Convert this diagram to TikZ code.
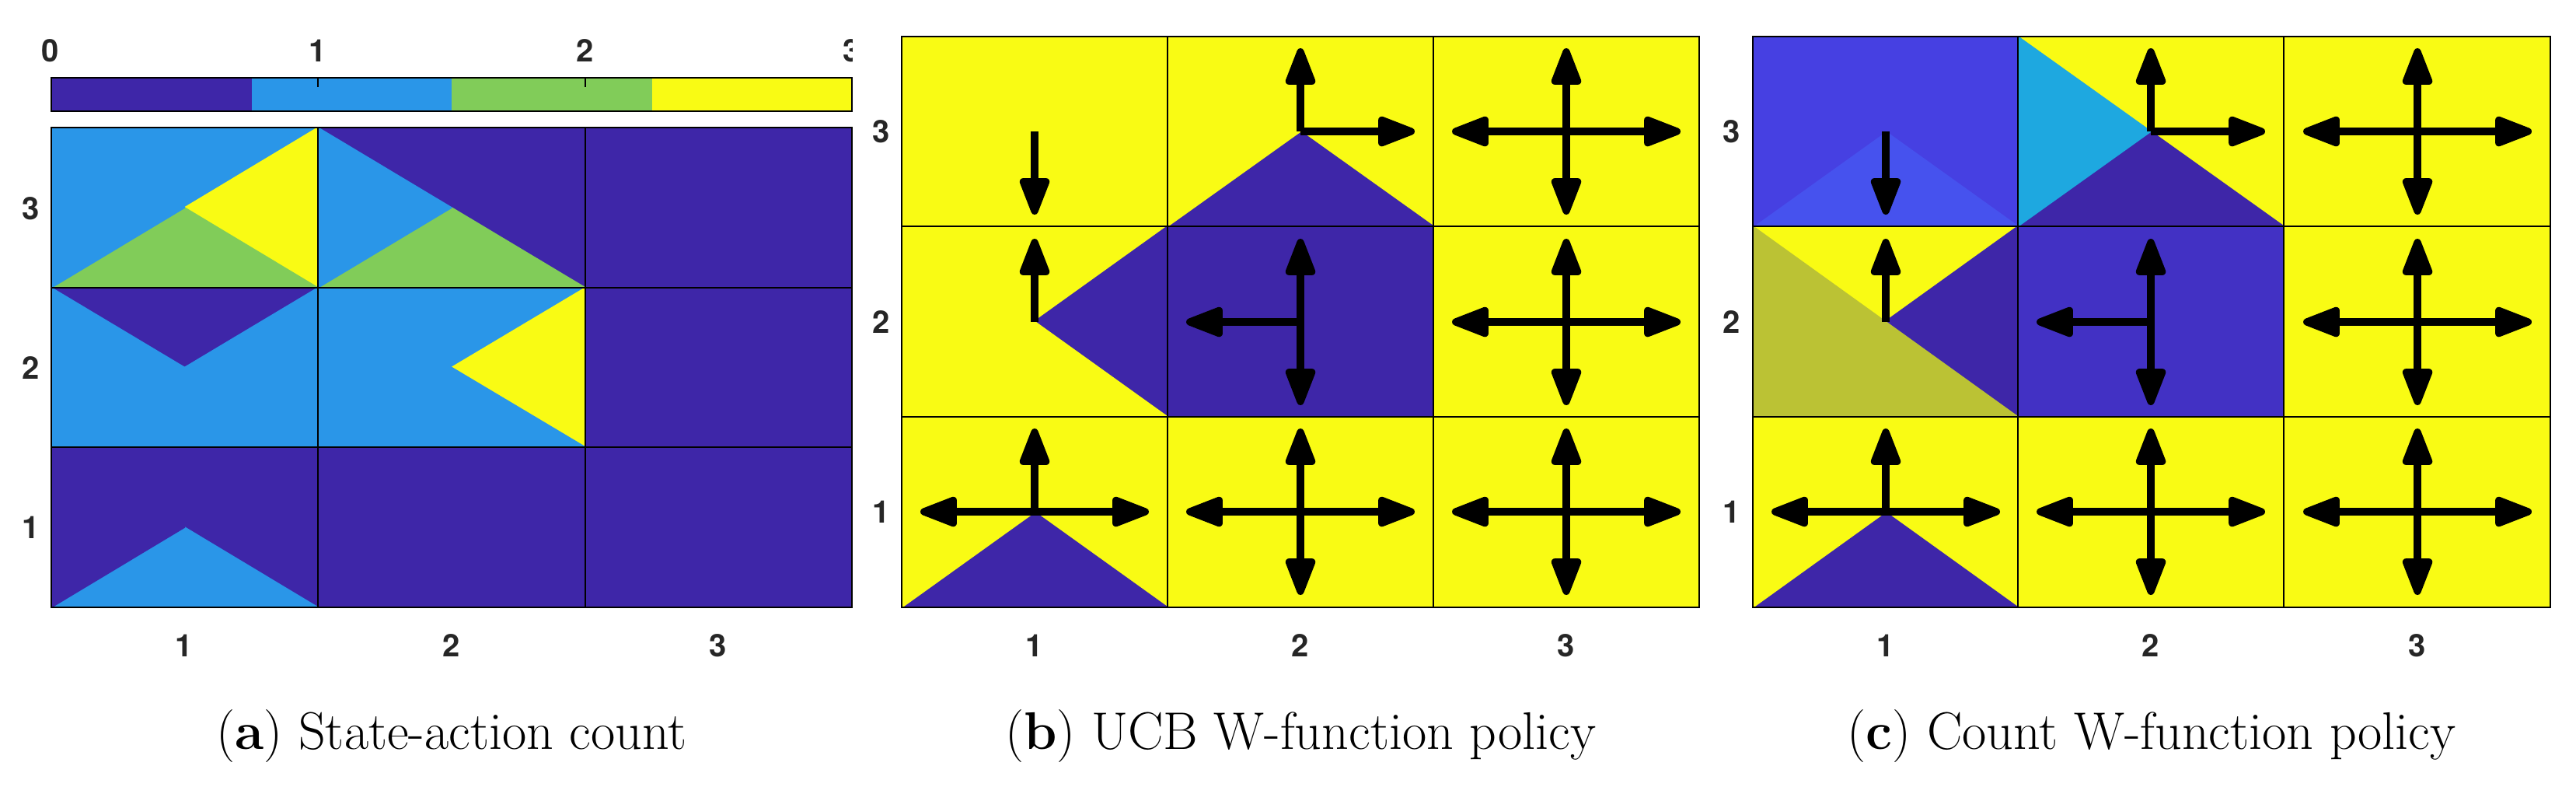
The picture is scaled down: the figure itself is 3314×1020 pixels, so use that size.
\documentclass[tikz,border=0pt]{standalone}
\usepackage{fontspec}
\setmainfont{Latin Modern Roman}
\newfontfamily\axisfont{TeX Gyre Heros}
\usetikzlibrary{arrows.meta}

\definecolor{pdark}{RGB}{62,38,168}
\definecolor{pblue}{RGB}{42,150,232}
\definecolor{pgreen}{RGB}{129,204,89}
\definecolor{pyellow}{RGB}{249,251,20}
\definecolor{cpurple}{RGB}{70,64,226}
\definecolor{cpurplel}{RGB}{70,82,238}
\definecolor{ccyan}{RGB}{30,168,224}
\definecolor{colive}{RGB}{187,194,52}
\definecolor{cmid}{RGB}{66,49,196}

\tikzset{
  gridline/.style={draw=black, line width=0.5pt},
  tick/.style={font=\axisfont\bfseries\fontsize{10}{10}\selectfont, text=black!85},
  caption/.style={font=\fontsize{17}{20}\selectfont},
  part/.style={fill=#1, draw=#1, line width=0.4pt, line join=round},
  move/.style={line width=2.3pt, -{Triangle[length=14pt,width=10pt,round]}}
}

% quarters of a cell: x0 y0 x1 y1 top right bottom left
\newcommand\quadcell[8]{%
  \path[part=#5] (#1,#2) -- (#3,#2) -- ({(#1+#3)/2},{(#2+#4)/2}) -- cycle;
  \path[part=#6] (#3,#2) -- (#3,#4) -- ({(#1+#3)/2},{(#2+#4)/2}) -- cycle;
  \path[part=#7] (#1,#4) -- (#3,#4) -- ({(#1+#3)/2},{(#2+#4)/2}) -- cycle;
  \path[part=#8] (#1,#2) -- (#1,#4) -- ({(#1+#3)/2},{(#2+#4)/2}) -- cycle;
}
% arrows from a cell centre: cx cy hx hy list
\newcommand\moves[5]{%
  \foreach \d in {#5}{%
    \if\d u\draw[move] (#1,#2) -- ++(0,-#4);\fi
    \if\d d\draw[move] (#1,#2) -- ++(0,#4);\fi
    \if\d l\draw[move] (#1,#2) -- ++(-#3,0);\fi
    \if\d r\draw[move] (#1,#2) -- ++(#3,0);\fi
  }%
}

\begin{document}
\begin{tikzpicture}[x=0.25pt,y=-0.25pt]
\useasboundingbox (0,0) rectangle (3314,1020);

% (a) state-action count
\fill[pdark] (66,100) rectangle (324,143);
\fill[pblue] (324,100) rectangle (581,143);
\fill[pgreen] (581,100) rectangle (839,143);
\fill[pyellow] (839,100) rectangle (1096,143);
\draw[gridline] (66,100) rectangle (1096,143);
\draw[gridline] (409,100) -- (409,112) (753,100) -- (753,112);
\node[tick] (cb0) at (65,65) {0};
\node[tick] (cb1) at (409,65) {1};
\node[tick] (cb2) at (753,65) {2};
\begin{scope}
\clip (1050,30) rectangle (1096,100);
\node[tick] (cb3) at (1096,65) {3};
\end{scope}

\quadcell{66}{164}{409}{370}{pblue}{pyellow}{pgreen}{pblue}
\quadcell{409}{164}{753}{370}{pdark}{pdark}{pgreen}{pblue}
\path[part=pdark] (753,164) rectangle (1096,370);
\quadcell{66}{370}{409}{575}{pdark}{pblue}{pblue}{pblue}
\quadcell{409}{370}{753}{575}{pblue}{pyellow}{pblue}{pblue}
\path[part=pdark] (753,370) rectangle (1096,575);
\quadcell{66}{575}{409}{781}{pdark}{pdark}{pblue}{pdark}
\path[part=pdark] (409,575) rectangle (1096,781);
\draw[gridline] (66,164) rectangle (1096,781);
\draw[gridline] (409,164) -- (409,781) (753,164) -- (753,781)
  (66,370) -- (1096,370) (66,575) -- (1096,575);
\node[tick] (ar3) at (40,268) {3};
\node[tick] (ar2) at (40,473) {2};
\node[tick] (ar1) at (40,678) {1};
\node[tick] (ac1) at (237,830) {1};
\node[tick] (ac2) at (581,830) {2};
\node[tick] (ac3) at (924,830) {3};
\node[caption] (capa) at (581,947) {(\textbf{a}) State-action count};

% (b) UCB W-function policy
\fill[pyellow] (1160,47) rectangle (2186,781);
\quadcell{1502}{47}{1844}{291}{pyellow}{pyellow}{pdark}{pyellow}
\quadcell{1160}{291}{1502}{536}{pyellow}{pdark}{pyellow}{pyellow}
\fill[pdark] (1502,291) rectangle (1844,536);
\quadcell{1160}{536}{1502}{781}{pyellow}{pyellow}{pdark}{pyellow}
\draw[gridline] (1160,47) rectangle (2186,781);
\draw[gridline] (1502,47) -- (1502,781) (1844,47) -- (1844,781)
  (1160,291) -- (2186,291) (1160,536) -- (2186,536);
\moves{1331}{169}{147}{107}{d}
\moves{1673}{169}{147}{107}{u,r}
\moves{2015}{169}{147}{107}{u,d,l,r}
\moves{1331}{414}{147}{107}{u}
\moves{1673}{414}{147}{107}{u,d,l}
\moves{2015}{414}{147}{107}{u,d,l,r}
\moves{1331}{658}{147}{107}{u,l,r}
\moves{1673}{658}{147}{107}{u,d,l,r}
\moves{2015}{658}{147}{107}{u,d,l,r}
\node[tick] (br3) at (1134,169) {3};
\node[tick] (br2) at (1134,414) {2};
\node[tick] (br1) at (1134,658) {1};
\node[tick] (bc1) at (1331,830) {1};
\node[tick] (bc2) at (1673,830) {2};
\node[tick] (bc3) at (2015,830) {3};
\node[caption] (capb) at (1673,947) {(\textbf{b}) UCB W-function policy};

% (c) Count W-function policy
\fill[pyellow] (2255,47) rectangle (3281,781);
\quadcell{2255}{47}{2596}{291}{cpurple}{cpurple}{cpurplel}{cpurple}
\quadcell{2596}{47}{2938}{291}{pyellow}{pyellow}{pdark}{ccyan}
\quadcell{2255}{291}{2596}{536}{pyellow}{pdark}{colive}{colive}
\fill[cmid] (2596,291) rectangle (2938,536);
\quadcell{2255}{536}{2596}{781}{pyellow}{pyellow}{pdark}{pyellow}
\draw[gridline] (2255,47) rectangle (3281,781);
\draw[gridline] (2596,47) -- (2596,781) (2938,47) -- (2938,781)
  (2255,291) -- (3281,291) (2255,536) -- (3281,536);
\moves{2426}{169}{147}{107}{d}
\moves{2767}{169}{147}{107}{u,r}
\moves{3110}{169}{147}{107}{u,d,l,r}
\moves{2426}{414}{147}{107}{u}
\moves{2767}{414}{147}{107}{u,d,l}
\moves{3110}{414}{147}{107}{u,d,l,r}
\moves{2426}{658}{147}{107}{u,l,r}
\moves{2767}{658}{147}{107}{u,d,l,r}
\moves{3110}{658}{147}{107}{u,d,l,r}
\node[tick] (cr3) at (2228,169) {3};
\node[tick] (cr2) at (2228,414) {2};
\node[tick] (cr1) at (2228,658) {1};
\node[tick] (cc1) at (2426,830) {1};
\node[tick] (cc2) at (2767,830) {2};
\node[tick] (cc3) at (3110,830) {3};
\node[caption] (capc) at (2768,947) {(\textbf{c}) Count W-function policy};
\end{tikzpicture}
\end{document}
